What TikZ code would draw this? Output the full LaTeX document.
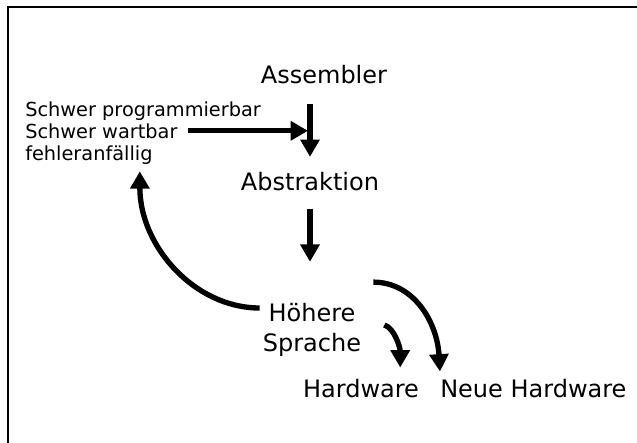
\documentclass[tikz,border=0pt]{standalone}
\usepackage{fontspec}
\setmainfont{DejaVu Sans}
\usetikzlibrary{arrows.meta,calc}

\begin{document}
\begin{tikzpicture}[x=0.75pt, y=-0.75pt, >={Triangle[width=14pt,length=13pt]},
        pfeil/.style={->, line width=4pt},
        gross/.style={inner sep=0pt, font=\fontsize{18}{22.5}\selectfont},
        klein/.style={inner sep=0pt, font=\fontsize{14.5}{16.5}\selectfont}]

        \useasboundingbox (0,0) rectangle (637,443);

        % Rahmen
        \draw[line width=1.5pt] (8,443) -- (8,7) -- (637,7);

        % Stufen
        \node[gross, anchor=base] (asm) at (324,83) {Assembler};
        \node[gross, anchor=base] (abs) at (310,190) {Abstraktion};
        \node[gross, align=center] (hs) at (312,330) {Höhere\\Sprache};
        \node[gross, anchor=base] (hw) at (361,397) {Hardware};
        \node[gross, anchor=base west] (nhw) at (440,397) {Neue Hardware};

        % Nachteile
        \node[klein, anchor=base west] (n1) at (25,116) {Schwer programmierbar};
        \node[klein, anchor=base west] (n2) at (25,138) {Schwer wartbar};
        \node[klein, anchor=base west] (n3) at (25,160) {fehleranfällig};

        % Pfeile nach unten
        \draw[pfeil, shorten <=15pt, shorten >=11pt] (asm.south -| abs.north) -- (abs.north);
        \draw[pfeil, shorten <=13.5pt, shorten >=31pt] (abs.south) -- (abs.south |- hs.north);

        % Pfeil von den Nachteilen
        \draw[pfeil, shorten <=8pt, shorten >=1.5pt] (n2.east) -- (n2.east -| abs.north);

        % Boegen
        \draw[pfeil] ($(hs.west)+(-3,-22)$) .. controls +(-65,0) and +(0,75) .. ($(n3.south east)+(-13,7)$);
        \draw[pfeil] ($(hs.north east)+(12,-21)$) .. controls +(40,0) and +(-3,-50) .. ($(nhw.north west)+(0,-7)$);
        \draw[pfeil] ($(hs.east)+(23,-5)$) .. controls +(10,3) and +(0,-20) .. ($(hw.north east)+(-19,-11)$);

\end{tikzpicture}
\end{document}
